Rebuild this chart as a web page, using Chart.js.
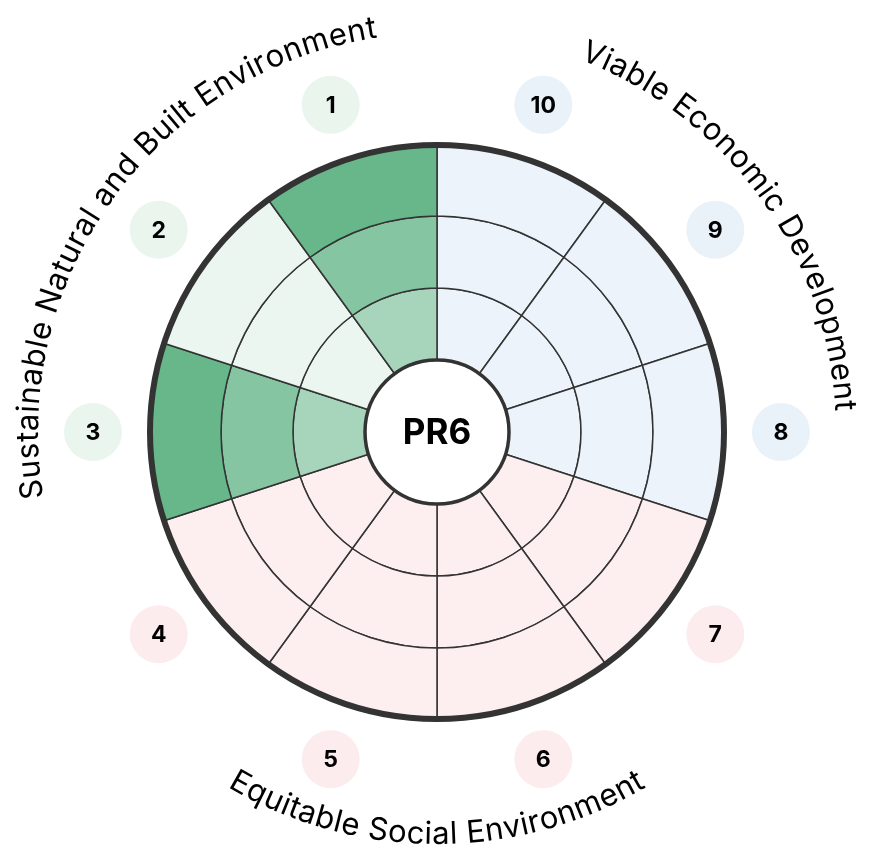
<!DOCTYPE html>
<html>
<head>
<meta charset="utf-8">
<title>PR6</title>
<script src="https://cdn.jsdelivr.net/npm/chart.js@4.4.1/dist/chart.umd.min.js"></script>
<style>
  html, body { margin: 0; padding: 0; background: #fff; }
  #wrap { width: 878px; height: 863px; }
</style>
</head>
<body>
<div id="wrap"><canvas id="wheel"></canvas></div>
<script>
// segments in reading order (1..10), their group and how many rings are filled
const segmentLabels = ['1', '2', '3', '4', '5', '6', '7', '8', '9', '10'];
const segmentGroup = ['env', 'env', 'env', 'soc', 'soc', 'soc', 'soc', 'eco', 'eco', 'eco'];
const segmentScore = [3, 0, 3, 0, 0, 0, 0, 0, 0, 0];
const ringLevels = [3, 2, 1]; // outer ring first, like doughnut datasets
const groupKeys = ['env', 'eco', 'soc'];
const groupTitles = ['Sustainable Natural and Built Environment', 'Viable Economic Development', 'Equitable Social Environment'];
const centerTitle = 'PR6';

const paleFill = { env: '#ebf6f0', eco: '#ecf3fa', soc: '#fdeeef' };
const badgeFill = { env: '#eaf5ee', eco: '#e9f1f9', soc: '#fcecee' };
const levelFill = { 1: '#a6d5bb', 2: '#86c5a2', 3: '#67b78a' };

// chart draws clockwise from the top, segment 10 comes first
const order = segmentLabels.map((_, i) => i).reverse();

const datasets = ringLevels.map(level => ({
    data: order.map(() => 1),
    backgroundColor: order.map(i => segmentScore[i] >= level ? levelFill[level] : paleFill[segmentGroup[i]]),
    borderColor: '#333333',
    borderWidth: 1.5,
    hoverOffset: 0
}));

function curvedText(ctx, text, cx, cy, r, mid, clockwise, spacing) {
    let total = 0;
    const widths = [...text].map(ch => ctx.measureText(ch).width + spacing);
    widths.forEach(w => total += w);
    const span = total / r;
    let acc = 0;
    [...text].forEach((ch, k) => {
        const off = (acc + widths[k] / 2) / r;
        const a = clockwise ? mid - span / 2 + off : mid + span / 2 - off;
        ctx.save();
        ctx.translate(cx + r * Math.cos(a), cy + r * Math.sin(a));
        ctx.rotate(clockwise ? a + Math.PI / 2 : a - Math.PI / 2);
        ctx.fillText(ch, 0, 0);
        ctx.restore();
        acc += widths[k];
    });
}

const wheelDecor = {
    id: 'wheelDecor',
    afterDatasetsDraw(chart) {
        const ctx = chart.ctx;
        const outer = chart.getDatasetMeta(0).data;
        const inner = chart.getDatasetMeta(ringLevels.length - 1).data;
        const cx = outer[0].x, cy = outer[0].y;
        const rOut = outer[0].outerRadius;
        const rIn = inner[0].innerRadius;

        ctx.save();
        ctx.lineWidth = 6;
        ctx.strokeStyle = '#333333';
        ctx.beginPath();
        ctx.arc(cx, cy, rOut - 1, 0, Math.PI * 2);
        ctx.stroke();

        ctx.fillStyle = '#ffffff';
        ctx.lineWidth = 3.5;
        ctx.beginPath();
        ctx.arc(cx, cy, rIn, 0, Math.PI * 2);
        ctx.fill();
        ctx.stroke();

        ctx.fillStyle = '#000000';
        ctx.textAlign = 'center';
        ctx.textBaseline = 'middle';
        ctx.font = 'bold 35px Inter, "Liberation Sans", sans-serif';
        ctx.fillText(centerTitle, cx, cy + 1);

        // numbered badges outside each segment
        ctx.font = 'bold 23px Inter, "Liberation Sans", sans-serif';
        outer.forEach((arc, j) => {
            const i = order[j];
            const a = (arc.startAngle + arc.endAngle) / 2;
            const bx = cx + 344 * Math.cos(a), by = cy + 344 * Math.sin(a);
            ctx.fillStyle = badgeFill[segmentGroup[i]];
            ctx.beginPath();
            ctx.arc(bx, by, 29, 0, Math.PI * 2);
            ctx.fill();
            ctx.fillStyle = '#000000';
            ctx.fillText(segmentLabels[i], bx, by + 1);
        });

        // group titles on arcs
        ctx.font = '400 31px Inter, "Liberation Sans", sans-serif';
        ctx.textAlign = 'center';
        ctx.textBaseline = 'alphabetic';
        groupKeys.forEach((g, gi) => {
            const arcs = outer.filter((arc, j) => segmentGroup[order[j]] === g);
            const start = Math.min(...arcs.map(a => a.startAngle));
            const end = Math.max(...arcs.map(a => a.endAngle));
            const mid = (start + end) / 2;
            const bottom = Math.sin(mid) > 0.5;
            curvedText(ctx, groupTitles[gi], cx, cy, bottom ? 412 : 399, mid, !bottom, 0.5);
        });
        ctx.restore();
    }
};

new Chart(document.getElementById('wheel'), {
    type: 'doughnut',
    data: { labels: order.map(i => segmentLabels[i]), datasets: datasets },
    options: {
        responsive: true,
        maintainAspectRatio: false,
        animation: false,
        events: [],
        radius: 288,
        cutout: '25%',
        layout: { padding: { top: 1, right: 4 } },
        plugins: { legend: { display: false }, tooltip: { enabled: false } }
    },
    plugins: [wheelDecor]
});
</script>
</body>
</html>
